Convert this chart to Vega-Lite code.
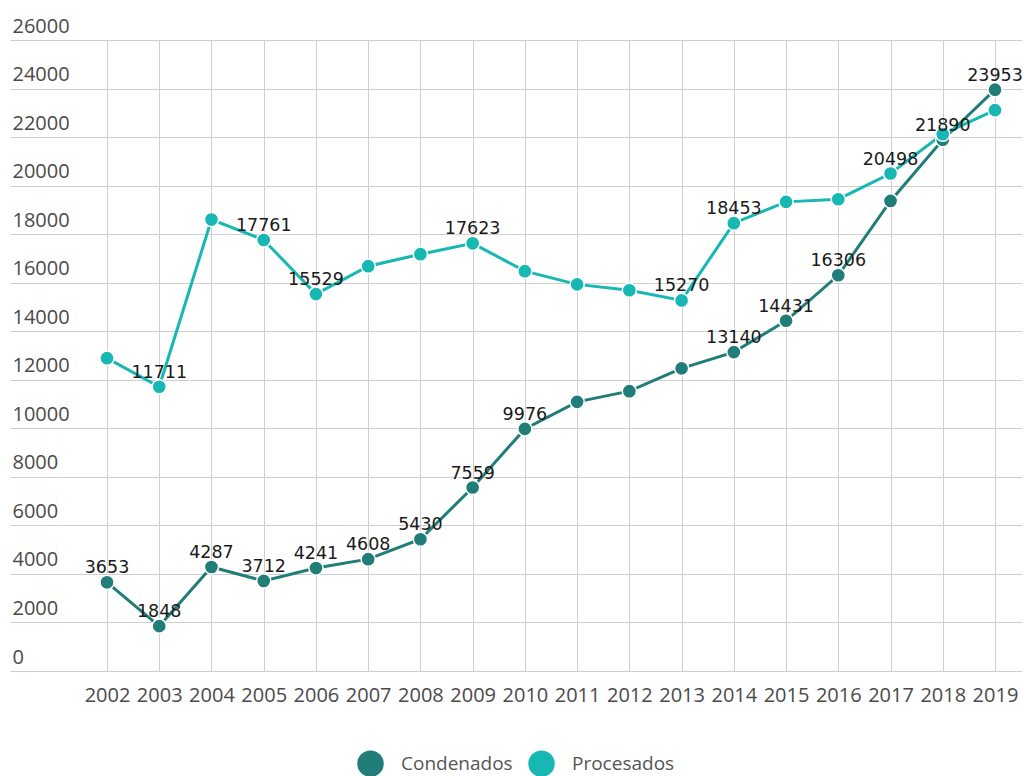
{
  "$schema": "https://vega.github.io/schema/vega-lite/v6.json",
  "width": 1012,
  "height": 631,
  "autosize": {"type": "none"},
  "padding": {"left": 10, "top": 40, "right": 5, "bottom": 105},
  "background": "white",
  "config": {
    "view": {"stroke": null},
    "axis": {"gridColor": "#cfcfcf", "gridWidth": 1, "domain": false, "ticks": false, "tickSize": 0, "labelColor": "#4a4a4a", "labelFont": "Open Sans", "labelFontSize": 20, "title": null},
    "legend": {"symbolType": "circle"}
  },
  "data": {
    "values": [
      {"year": 2002, "serie": "Condenados", "valor": 3653, "etiqueta": "3653"},
      {"year": 2003, "serie": "Condenados", "valor": 1848, "etiqueta": "1848"},
      {"year": 2004, "serie": "Condenados", "valor": 4287, "etiqueta": "4287"},
      {"year": 2005, "serie": "Condenados", "valor": 3712, "etiqueta": "3712"},
      {"year": 2006, "serie": "Condenados", "valor": 4241, "etiqueta": "4241"},
      {"year": 2007, "serie": "Condenados", "valor": 4608, "etiqueta": "4608"},
      {"year": 2008, "serie": "Condenados", "valor": 5430, "etiqueta": "5430"},
      {"year": 2009, "serie": "Condenados", "valor": 7559, "etiqueta": "7559"},
      {"year": 2010, "serie": "Condenados", "valor": 9976, "etiqueta": "9976"},
      {"year": 2011, "serie": "Condenados", "valor": 11090, "etiqueta": null},
      {"year": 2012, "serie": "Condenados", "valor": 11530, "etiqueta": null},
      {"year": 2013, "serie": "Condenados", "valor": 12470, "etiqueta": null},
      {"year": 2014, "serie": "Condenados", "valor": 13140, "etiqueta": "13140"},
      {"year": 2015, "serie": "Condenados", "valor": 14431, "etiqueta": "14431"},
      {"year": 2016, "serie": "Condenados", "valor": 16306, "etiqueta": "16306"},
      {"year": 2017, "serie": "Condenados", "valor": 19370, "etiqueta": null},
      {"year": 2018, "serie": "Condenados", "valor": 21890, "etiqueta": "21890"},
      {"year": 2019, "serie": "Condenados", "valor": 23953, "etiqueta": "23953"},
      {"year": 2002, "serie": "Procesados", "valor": 12890, "etiqueta": null},
      {"year": 2003, "serie": "Procesados", "valor": 11711, "etiqueta": "11711"},
      {"year": 2004, "serie": "Procesados", "valor": 18600, "etiqueta": null},
      {"year": 2005, "serie": "Procesados", "valor": 17761, "etiqueta": "17761"},
      {"year": 2006, "serie": "Procesados", "valor": 15529, "etiqueta": "15529"},
      {"year": 2007, "serie": "Procesados", "valor": 16680, "etiqueta": null},
      {"year": 2008, "serie": "Procesados", "valor": 17175, "etiqueta": null},
      {"year": 2009, "serie": "Procesados", "valor": 17623, "etiqueta": "17623"},
      {"year": 2010, "serie": "Procesados", "valor": 16475, "etiqueta": null},
      {"year": 2011, "serie": "Procesados", "valor": 15930, "etiqueta": null},
      {"year": 2012, "serie": "Procesados", "valor": 15690, "etiqueta": null},
      {"year": 2013, "serie": "Procesados", "valor": 15270, "etiqueta": "15270"},
      {"year": 2014, "serie": "Procesados", "valor": 18453, "etiqueta": "18453"},
      {"year": 2015, "serie": "Procesados", "valor": 19330, "etiqueta": null},
      {"year": 2016, "serie": "Procesados", "valor": 19440, "etiqueta": null},
      {"year": 2017, "serie": "Procesados", "valor": 20498, "etiqueta": "20498"},
      {"year": 2018, "serie": "Procesados", "valor": 22120, "etiqueta": null},
      {"year": 2019, "serie": "Procesados", "valor": 23110, "etiqueta": null}
    ]
  },
  "encoding": {
    "x": {
      "field": "year", "type": "quantitative",
      "scale": {"domain": [2000.143, 2019.517], "nice": false, "zero": false},
      "axis": {"values": [2002, 2003, 2004, 2005, 2006, 2007, 2008, 2009, 2010, 2011, 2012, 2013, 2014, 2015, 2016, 2017, 2018, 2019], "format": "d", "labelPadding": 14, "labelBaseline": "top", "labelFlush": false}
    },
    "y": {
      "field": "valor", "type": "quantitative",
      "scale": {"domain": [0, 26000], "nice": false},
      "axis": {"values": [0, 2000, 4000, 6000, 8000, 10000, 12000, 14000, 16000, 18000, 20000, 22000, 24000, 26000], "format": "d", "labelAlign": "left", "labelBaseline": "alphabetic", "labelPadding": -2, "labelOffset": -8, "labelFlush": false}
    },
    "color": {
      "field": "serie", "type": "nominal",
      "scale": {"domain": ["Condenados", "Procesados"], "range": ["#217d78", "#17b8b3"]},
      "legend": {"title": null, "orient": "none", "legendX": 347, "legendY": 710, "direction": "horizontal", "symbolType": "circle", "symbolSize": 700, "symbolStrokeWidth": 0, "symbolOpacity": 1, "labelFont": "Open Sans", "labelFontSize": 19, "labelColor": "#555555", "labelOffset": 17, "columnPadding": 15}
    }
  },
  "layer": [
    {
      "mark": {"type": "line", "strokeWidth": 3}
    },
    {
      "mark": {"type": "point", "filled": true, "size": 200, "stroke": "white", "strokeWidth": 1.5, "opacity": 1}
    },
    {
      "transform": [{"filter": "datum.etiqueta != null"}],
      "mark": {"type": "text", "font": "DejaVu Sans", "fontSize": 17.5, "fill": "#1a1a1a", "baseline": "alphabetic", "dy": -9},
      "encoding": {"text": {"field": "etiqueta"}, "color": {"value": "#1a1a1a"}}
    }
  ]
}
